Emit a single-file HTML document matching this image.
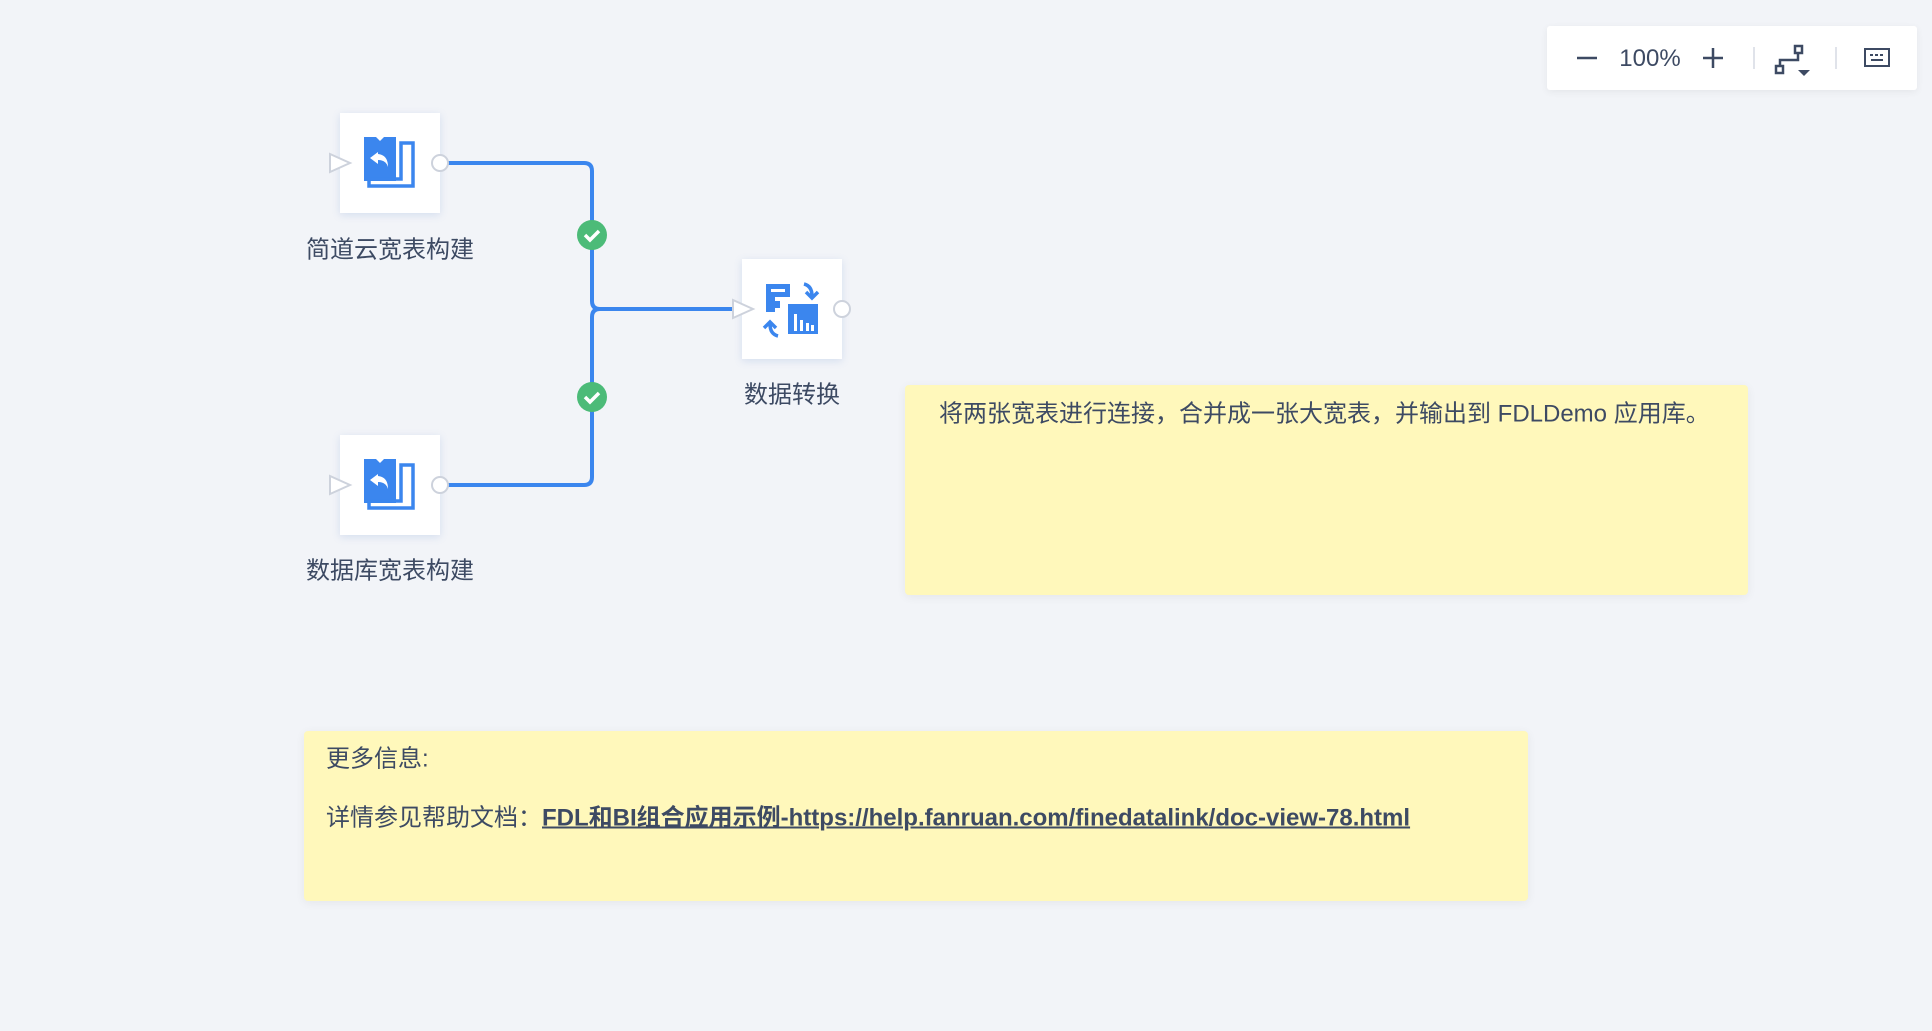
<!DOCTYPE html>
<html><head><meta charset="utf-8"><style>
body{margin:0;width:1932px;height:1031px;background:#f2f4f8;position:relative;overflow:hidden;font-family:"Liberation Sans","Noto Sans CJK SC",sans-serif;color:#3d4a63}
.node{position:absolute;width:100px;height:100px;background:#fff;box-shadow:0 2px 8px rgba(80,120,200,.18)}
.lbl{position:absolute;font-size:24px;white-space:nowrap;transform:translate(-50%,-50%)}
.note{position:absolute;background:#fff8bb;border-radius:4px;box-shadow:0 2px 10px rgba(0,0,0,.06)}
.t{position:absolute;font-size:24px;white-space:nowrap;transform:translateY(-50%)}
</style></head><body>
<div class="node" style="left:340px;top:113px"></div>
<div class="node" style="left:340px;top:435px"></div>
<div class="node" style="left:742px;top:259px"></div>
<svg width="1932" height="1031" style="position:absolute;left:0;top:0">
<g fill="none" stroke="#3b86ee" stroke-width="4">
<path d="M448 163 H584 Q592 163 592 171 V301 Q592 309 600 309 H732"/>
<path d="M448 485 H584 Q592 485 592 477 V317 Q592 309 600 309"/>
</g>
<g fill="#fff" stroke="#cdd2dc" stroke-width="2">
<circle cx="440" cy="163" r="8"/><circle cx="440" cy="485" r="8"/><circle cx="842" cy="309" r="8"/>
<path d="M330 154 L350 163 L330 172Z"/><path d="M330 476 L350 485 L330 494Z"/><path d="M733 300 L753 309 L733 318Z"/>
</g>
<g><circle cx="592" cy="235" r="15" fill="#4cbb78"/><path d="M585 235 l5 5 l9 -9" stroke="#fff" stroke-width="3.5" fill="none"/>
<circle cx="592" cy="397" r="15" fill="#4cbb78"/><path d="M585 397 l5 5 l9 -9" stroke="#fff" stroke-width="3.5" fill="none"/></g>
<g id="ic1" fill="#3b86ee">
<path d="M364 137 h12 l4 4 l4 -4 h12 v44 h-32z"/>
<path d="M378 152 l-8 6 l8 6 v-4 q8 0 10 7 q0 -12 -10 -13z" fill="#fff"/>
<path d="M401 143 h12 v43 h-44 v-7 h32z" fill="none" stroke="#3b86ee" stroke-width="3.5" transform="translate(0,0)"/>
</g>
<use href="#ic1" y="322"/>
<g fill="#3b86ee">
<path d="M766 284 h24 v13 h-15 v4 h5 v7 h-5 v4 h-9z"/>
<path d="M771 289 h14 v3 h-14z" fill="#fff"/>
<rect x="788" y="304" width="30" height="30"/>
<g fill="#fff"><rect x="794" y="314" width="3" height="17"/><rect x="800" y="320" width="3" height="11"/><rect x="806" y="323" width="3" height="8"/><rect x="811" y="325" width="3" height="6"/></g>
<path d="M804 284 q8 2 8 12 M806 292 l6 6 l6 -6" stroke="#3b86ee" stroke-width="3.5" fill="none"/>
<path d="M778 336 q-8 -2 -8 -12 M764 328 l6 -6 l6 6" stroke="#3b86ee" stroke-width="3.5" fill="none"/>
</g>
</svg>
<div class="lbl" style="left:390px;top:247px">简道云宽表构建</div>
<div class="lbl" style="left:390px;top:568px">数据库宽表构建</div>
<div class="lbl" style="left:792px;top:392px">数据转换</div>
<div class="note" style="left:905px;top:385px;width:843px;height:210px"></div>
<div class="t" style="left:939px;top:411px">将两张宽表进行连接，合并成一张大宽表，并输出到 FDLDemo 应用库。</div>
<div class="note" style="left:304px;top:731px;width:1224px;height:170px"></div>
<div class="t" style="left:326px;top:756px">更多信息:</div>
<div class="t" style="left:326px;top:815px">详情参见帮助文档：<b style="text-decoration:underline;text-decoration-thickness:2px">FDL和BI组合应用示例-https://help.fanruan.com/finedatalink/doc-view-78.html</b></div>
<div style="position:absolute;left:1547px;top:26px;width:370px;height:64px;background:#fff;border-radius:3px;box-shadow:0 2px 8px rgba(0,0,0,.06)"></div>
<svg width="1932" height="1031" style="position:absolute;left:0;top:0">
<g stroke="#3d4a63" stroke-width="2.5" fill="none">
<path d="M1577 58 h20"/><path d="M1703 58 h20 M1713 48 v20"/>
<rect x="1776" y="66" width="7" height="7"/><rect x="1795" y="46" width="7" height="7"/><path d="M1780 66 v-6 h18 v-7"/>
<rect x="1865" y="49" width="24" height="17" stroke-width="2"/>
</g>
<path d="M1798 70 h12 l-6 6z" fill="#3d4a63"/>
<g fill="#3d4a63"><rect x="1870" y="54" width="3" height="2"/><rect x="1875" y="54" width="3" height="2"/><rect x="1880" y="54" width="3" height="2"/><rect x="1871" y="59" width="12" height="2"/></g>
<path d="M1754 47 v22 M1836 47 v22" stroke="#e0e3ea" stroke-width="2"/>
<text x="1650" y="66" font-size="24" text-anchor="middle" fill="#3d4a63" font-family="Liberation Sans">100%</text>
</svg>
</body></html>
